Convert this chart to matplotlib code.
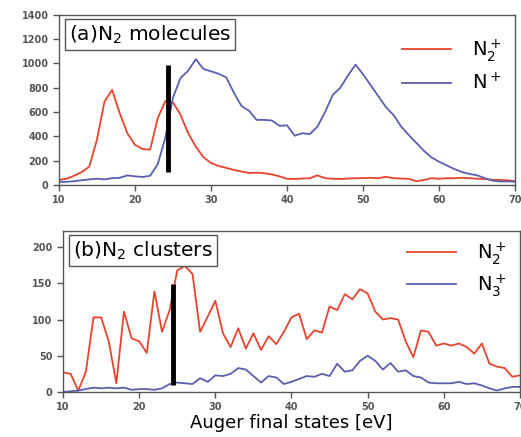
import numpy as np
import matplotlib.pyplot as plt

# Auger final state energies (eV), 1 eV steps
energy = np.arange(10, 71)

# (a) N2 molecules
mol_n2p = [41, 50, 75, 105, 150, 370, 686, 782, 590, 425,
           330, 295, 290, 550, 690, 680, 576, 425, 315, 228,
           180, 155, 140, 123, 110, 98, 100, 96, 86, 70,
           50, 48, 52, 55, 78, 55, 50, 48, 52, 55,
           55, 58, 55, 66, 55, 52, 50, 30, 40, 55,
           50, 55, 55, 58, 55, 50, 48, 42, 40, 38, 30]
mol_np = [25, 25, 30, 38, 45, 50, 45, 55, 58, 78,
          70, 65, 75, 170, 390, 720, 880, 940, 1035, 955,
          935, 915, 885, 760, 650, 610, 535, 535, 530, 486,
          490, 405, 425, 418, 480, 600, 740, 800, 900, 990,
          910, 820, 730, 640, 575, 480, 410, 345, 280, 225,
          190, 160, 130, 105, 90, 78, 55, 35, 28, 28, 27]

# (b) N2 clusters
clu_n2p = [27, 25, 2, 28, 103, 103, 70, 12, 111, 74,
           70, 54, 139, 83, 113, 168, 174, 163, 83, 104,
           126, 81, 62, 88, 60, 81, 58, 77, 66, 83,
           103, 108, 73, 85, 82, 118, 113, 135, 128, 142,
           136, 111, 100, 102, 100, 70, 48, 85, 83, 64,
           67, 64, 67, 62, 53, 67, 39, 35, 33, 21, 23]
clu_n3p = [0, 1, 2, 4, 6, 5, 6, 5, 6, 3,
           4, 4, 3, 5, 11, 13, 12, 11, 19, 14,
           23, 22, 25, 33, 31, 22, 13, 22, 20, 11,
           14, 18, 22, 21, 25, 22, 39, 28, 30, 43,
           50, 43, 31, 40, 28, 30, 22, 20, 13, 12,
           12, 12, 14, 11, 12, 9, 5, 2, 5, 7, 7]

# threshold marker (energy, y range) for each panel
mark_e = [24.3, 24.4]
mark_a = [107, 988]
mark_b = [10, 149]

red = "#e8432e"
blue = "#5a5fae"
gray = "#555555"

fig = plt.figure(figsize=(5.21, 4.37), dpi=100)
ax1 = fig.add_axes([0.113, 0.577, 0.876, 0.389])
ax2 = fig.add_axes([0.121, 0.103, 0.877, 0.368])


def style(ax, ylim, yticks):
    ax.set_xlim(10, 70)
    ax.set_ylim(*ylim)
    ax.set_xticks(range(10, 71, 10))
    ax.set_yticks(yticks)
    for s in ax.spines.values():
        s.set_color(gray)
        s.set_linewidth(1.0)
    ax.tick_params(direction="out", length=4, width=1, color=gray,
                   labelsize=7, labelcolor="#555555")
    for lab in ax.get_xticklabels() + ax.get_yticklabels():
        lab.set_fontweight("bold")


box = dict(boxstyle="square,pad=0.2", fc="white", ec=gray, lw=1)

ax1.plot(energy, mol_n2p, color=red, lw=1.3, label="N$_2^+$")
ax1.plot(energy, mol_np, color=blue, lw=1.3, label="N$^+$")
ax1.plot([mark_e[0]] * 2, mark_a, color="k", lw=3.5, solid_capstyle="butt")
style(ax1, (0, 1400), range(0, 1401, 200))
ax1.text(0.022, 0.95, "(a)N$_2$ molecules", transform=ax1.transAxes,
         fontsize=14.5, va="top", ha="left", bbox=box)
ax1.legend(loc="upper right", bbox_to_anchor=(1.0, 0.95), frameon=False,
           fontsize=14, handlelength=2.5, handletextpad=1.1, labelspacing=0.45,
           borderaxespad=0.3)

ax2.plot(energy, clu_n2p, color=red, lw=1.3, label="N$_2^+$")
ax2.plot(energy, clu_n3p, color=blue, lw=1.3, label="N$_3^+$")
ax2.plot([mark_e[1]] * 2, mark_b, color="k", lw=3.5, solid_capstyle="butt")
style(ax2, (0, 222), range(0, 201, 50))
ax2.text(0.022, 0.95, "(b)N$_2$ clusters", transform=ax2.transAxes,
         fontsize=14.5, va="top", ha="left", bbox=box)
ax2.legend(loc="upper right", bbox_to_anchor=(1.0, 1.03), frameon=False,
           fontsize=14, handlelength=2.5, handletextpad=1.1, labelspacing=0.3,
           borderaxespad=0.3)
ax2.set_xlabel("Auger final states [eV]", fontsize=13, labelpad=1)

fig.savefig("out.png", dpi=100)
